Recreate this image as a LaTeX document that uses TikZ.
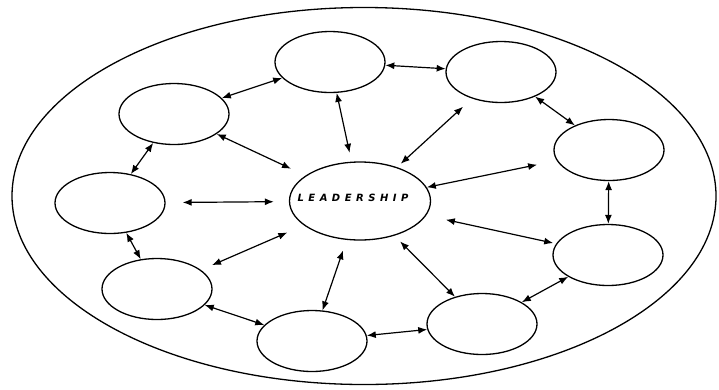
\documentclass[tikz,border=0pt]{standalone}
\usepackage{fontspec}
\newfontfamily\handfont[LetterSpace=45]{DejaVu Sans}
\usetikzlibrary{shapes.geometric,arrows.meta}
\begin{document}
\begin{tikzpicture}[x=1pt,y=-1pt,
  bubble/.style={ellipse,draw,line width=1.3pt,inner sep=0pt,minimum width=110pt,minimum height=61pt},
  link/.style={{Latex[length=9pt,width=7pt]}-{Latex[length=9pt,width=7pt]},line width=1.2pt}]
\useasboundingbox (0,0) rectangle (719,389);
\node[ellipse,draw,line width=1.3pt,inner sep=0pt,minimum width=704pt,minimum height=377pt] (outer) at (364,196) {};
\node[bubble,minimum width=141pt,minimum height=78pt] (c) at (360,201)
  {\hspace*{-14pt}\raisebox{7pt}{\handfont\bfseries\itshape\fontsize{10}{10}\selectfont LEADERSHIP}};
\node[bubble] (t)  at (330,62) {};
\node[bubble] (tr) at (501,72) {};
\node[bubble] (r)  at (609,150) {};
\node[bubble] (rl) at (608,255) {};
\node[bubble] (br) at (482,324) {};
\node[bubble] (bm) at (312,341) {};
\node[bubble] (bl) at (157,289) {};
\node[bubble] (l)  at (110,203) {};
\node[bubble] (ul) at (174,114) {};
% ring
\draw[link] (t) -- (ul);
\draw[link] (t) -- (tr);
\draw[link] (tr) -- (r);
\draw[link] (r) -- (rl);
\draw[link] (rl) -- (br);
\draw[link] (br) -- (bm);
\draw[link] (bm) -- (bl);
\draw[link] (bl) -- (l);
\draw[link] (l) -- (ul);
% spokes
\draw[link,shorten >=9pt] (t) -- (c);
\draw[link,shorten >=16pt] (ul) -- (c);
\draw[link,shorten <=12pt,shorten >=5pt] (tr) -- (c);
\draw[link,shorten >=20pt] (c) -- (r);
\draw[link,shorten <=20pt,shorten >=3pt] (c) -- (rl);
\draw[link,shorten <=8pt] (c) -- (br);
\draw[link,shorten <=11pt] (c) -- (bm);
\draw[link,shorten <=18pt,shorten >=12pt] (c) -- (bl);
\draw[link,shorten <=17pt,shorten >=15pt] (l) -- (c);
\end{tikzpicture}
\end{document}
